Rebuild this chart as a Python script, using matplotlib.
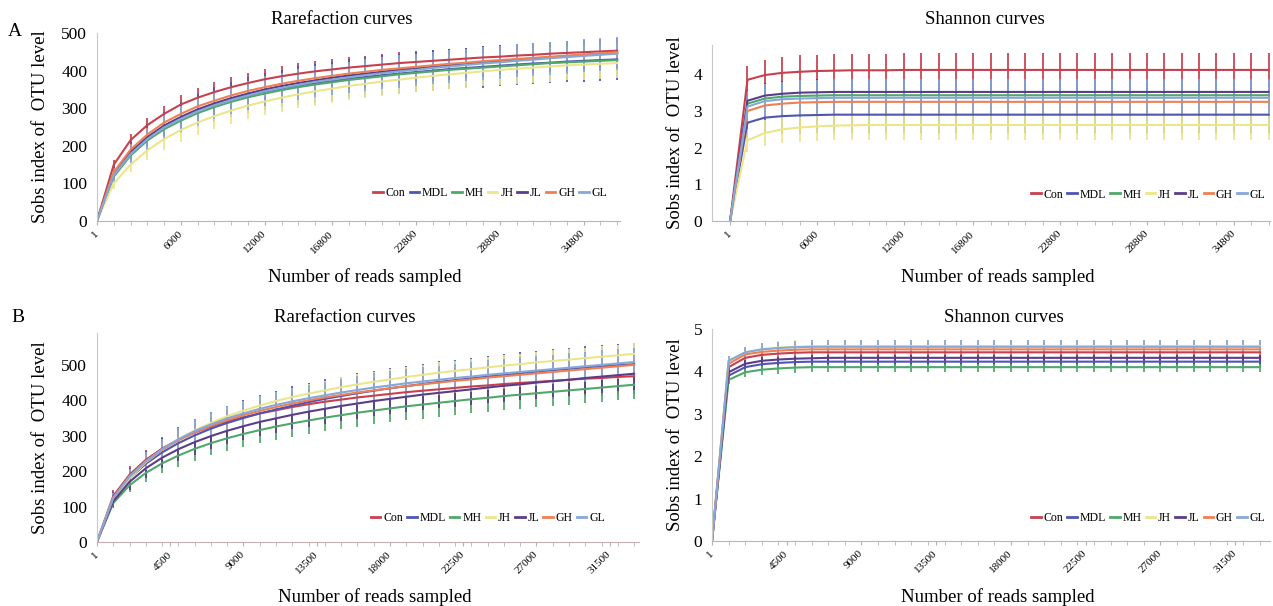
import numpy as np
import matplotlib
matplotlib.use("Agg")
from matplotlib import pyplot as plt
from matplotlib.lines import Line2D

plt.rcParams['font.family'] = ['Liberation Serif', 'DejaVu Serif']

groups = ['Con', 'MDL', 'MH', 'JH', 'JL', 'GH', 'GL']
colors = {'Con': '#c8404e', 'MDL': '#4f55b3', 'MH': '#4fa86a', 'JH': '#ece68a',
          'JL': '#5a3d8a', 'GH': '#f07f52', 'GL': '#86a8d8'}

# ---- sample A: reads sampled
reads_a = [1, 1200, 2400, 3600, 4800, 6000, 7200, 8400,
           9600, 10800, 12000, 13200, 14400, 15600, 16800, 18000,
           19200, 20400, 21600, 22800, 24000, 25200, 26400, 27600,
           28800, 30000, 31200, 32400, 33600, 34800, 36000, 37200]
ticks_a = [1, 6000, 12000, 16800, 22800, 28800, 34800]

rare_a = {
    'Con': [1, 150, 215, 255, 285, 310, 328, 343,
            356, 367, 377, 385, 392, 398, 403, 408,
            412, 416, 420, 423, 426, 429, 432, 435,
            437, 440, 442, 445, 447, 449, 451, 453],
    'MDL': [1, 125, 182, 222, 252, 275, 294, 310,
            323, 334, 344, 352, 360, 366, 372, 378,
            383, 388, 392, 396, 400, 404, 407, 410,
            413, 416, 419, 421, 424, 426, 428, 430],
    'MH': [1, 118, 174, 214, 244, 267, 287, 303,
           317, 329, 339, 348, 356, 363, 369, 375,
           380, 385, 390, 394, 398, 402, 405, 408,
           411, 414, 417, 420, 422, 424, 426, 428],
    'JH': [1, 100, 150, 188, 218, 242, 262, 279,
           294, 307, 318, 328, 337, 345, 352, 359,
           365, 371, 376, 381, 386, 390, 394, 398,
           402, 405, 408, 411, 414, 416, 418, 420],
    'JL': [1, 125, 183, 223, 254, 277, 297, 313,
           327, 339, 350, 359, 367, 374, 381, 387,
           392, 397, 402, 406, 410, 414, 418, 422,
           425, 429, 432, 435, 438, 441, 444, 447],
    'GH': [1, 130, 190, 230, 262, 285, 305, 320,
           334, 346, 356, 365, 373, 380, 386, 392,
           397, 402, 406, 410, 414, 418, 421, 425,
           428, 431, 434, 437, 440, 443, 446, 449],
    'GL': [1, 122, 178, 218, 249, 272, 292, 308,
           322, 334, 345, 354, 362, 370, 376, 382,
           388, 393, 398, 402, 407, 411, 415, 419,
           422, 426, 429, 433, 436, 439, 442, 445],
}
rare_a_sd = {
    'Con': [0, 12, 17, 20, 22, 24, 25, 26,
            26, 27, 27, 27, 28, 28, 28, 28,
            28, 29, 29, 29, 29, 29, 29, 30,
            30, 30, 30, 30, 30, 30, 30, 30],
    'MDL': [0, 20, 29, 35, 39, 42, 44, 46,
            47, 48, 49, 50, 51, 51, 52, 52,
            53, 53, 53, 54, 54, 54, 54, 55,
            55, 55, 55, 55, 55, 56, 56, 56],
    'MH': [0, 12, 18, 22, 25, 27, 28, 29,
           30, 31, 31, 32, 32, 32, 33, 33,
           33, 33, 34, 34, 34, 34, 34, 34,
           35, 35, 35, 35, 35, 35, 35, 35],
    'JH': [0, 14, 21, 26, 29, 31, 33, 34,
           35, 36, 36, 37, 37, 38, 38, 38,
           38, 39, 39, 39, 39, 39, 40, 40,
           40, 40, 40, 40, 40, 40, 40, 40],
    'JL': [0, 14, 20, 24, 27, 29, 31, 32,
           33, 34, 34, 35, 35, 36, 36, 36,
           37, 37, 37, 37, 38, 38, 38, 38,
           38, 38, 38, 39, 39, 39, 39, 39],
    'GH': [0, 10, 14, 17, 19, 20, 21, 22,
           22, 23, 23, 23, 24, 24, 24, 24,
           24, 25, 25, 25, 25, 25, 25, 25,
           25, 25, 25, 25, 25, 25, 25, 25],
    'GL': [0, 16, 23, 28, 32, 34, 36, 37,
           38, 39, 40, 40, 41, 41, 42, 42,
           42, 42, 43, 43, 43, 43, 43, 43,
           44, 44, 44, 44, 44, 44, 44, 44],
}

shan_a = {
    'Con': [0, 3.85, 3.98, 4.04, 4.07, 4.09, 4.10, 4.11,
            4.11, 4.11, 4.12, 4.12, 4.12, 4.12, 4.12, 4.12,
            4.12, 4.12, 4.12, 4.12, 4.12, 4.12, 4.12, 4.12,
            4.12, 4.12, 4.12, 4.12, 4.12, 4.12, 4.12, 4.12],
    'MDL': [0, 2.68, 2.82, 2.86, 2.88, 2.89, 2.90, 2.90,
            2.90, 2.90, 2.90, 2.90, 2.90, 2.90, 2.90, 2.90,
            2.90, 2.90, 2.90, 2.90, 2.90, 2.90, 2.90, 2.90,
            2.90, 2.90, 2.90, 2.90, 2.90, 2.90, 2.90, 2.90],
    'MH': [0, 3.20, 3.34, 3.39, 3.41, 3.42, 3.43, 3.43,
           3.43, 3.43, 3.43, 3.43, 3.43, 3.43, 3.43, 3.43,
           3.43, 3.43, 3.43, 3.43, 3.43, 3.43, 3.43, 3.43,
           3.43, 3.43, 3.43, 3.43, 3.43, 3.43, 3.43, 3.43],
    'JH': [0, 2.20, 2.40, 2.50, 2.55, 2.58, 2.60, 2.61,
           2.62, 2.62, 2.62, 2.62, 2.62, 2.62, 2.62, 2.62,
           2.62, 2.62, 2.62, 2.62, 2.62, 2.62, 2.62, 2.62,
           2.62, 2.62, 2.62, 2.62, 2.62, 2.62, 2.62, 2.62],
    'JL': [0, 3.28, 3.42, 3.47, 3.50, 3.51, 3.52, 3.52,
           3.52, 3.52, 3.52, 3.52, 3.52, 3.52, 3.52, 3.52,
           3.52, 3.52, 3.52, 3.52, 3.52, 3.52, 3.52, 3.52,
           3.52, 3.52, 3.52, 3.52, 3.52, 3.52, 3.52, 3.52],
    'GH': [0, 3.00, 3.15, 3.20, 3.23, 3.24, 3.25, 3.25,
           3.25, 3.25, 3.25, 3.25, 3.25, 3.25, 3.25, 3.25,
           3.25, 3.25, 3.25, 3.25, 3.25, 3.25, 3.25, 3.25,
           3.25, 3.25, 3.25, 3.25, 3.25, 3.25, 3.25, 3.25],
    'GL': [0, 3.12, 3.27, 3.32, 3.34, 3.35, 3.36, 3.36,
           3.36, 3.36, 3.36, 3.36, 3.36, 3.36, 3.36, 3.36,
           3.36, 3.36, 3.36, 3.36, 3.36, 3.36, 3.36, 3.36,
           3.36, 3.36, 3.36, 3.36, 3.36, 3.36, 3.36, 3.36],
}
shan_a_sd = {
    'Con': [0, 0.38, 0.42, 0.44, 0.45, 0.45, 0.45, 0.45,
            0.45, 0.45, 0.45, 0.45, 0.45, 0.45, 0.45, 0.45,
            0.45, 0.45, 0.45, 0.45, 0.45, 0.45, 0.45, 0.45,
            0.45, 0.45, 0.45, 0.45, 0.45, 0.45, 0.45, 0.45],
    'MDL': [0, 0.42, 0.46, 0.48, 0.50, 0.50, 0.50, 0.50,
            0.50, 0.50, 0.50, 0.50, 0.50, 0.50, 0.50, 0.50,
            0.50, 0.50, 0.50, 0.50, 0.50, 0.50, 0.50, 0.50,
            0.50, 0.50, 0.50, 0.50, 0.50, 0.50, 0.50, 0.50],
    'MH': [0, 0.30, 0.33, 0.34, 0.35, 0.35, 0.35, 0.35,
           0.35, 0.35, 0.35, 0.35, 0.35, 0.35, 0.35, 0.35,
           0.35, 0.35, 0.35, 0.35, 0.35, 0.35, 0.35, 0.35,
           0.35, 0.35, 0.35, 0.35, 0.35, 0.35, 0.35, 0.35],
    'JH': [0, 0.32, 0.36, 0.38, 0.40, 0.40, 0.40, 0.40,
           0.40, 0.40, 0.40, 0.40, 0.40, 0.40, 0.40, 0.40,
           0.40, 0.40, 0.40, 0.40, 0.40, 0.40, 0.40, 0.40,
           0.40, 0.40, 0.40, 0.40, 0.40, 0.40, 0.40, 0.40],
    'JL': [0, 0.30, 0.33, 0.34, 0.35, 0.35, 0.35, 0.35,
           0.35, 0.35, 0.35, 0.35, 0.35, 0.35, 0.35, 0.35,
           0.35, 0.35, 0.35, 0.35, 0.35, 0.35, 0.35, 0.35,
           0.35, 0.35, 0.35, 0.35, 0.35, 0.35, 0.35, 0.35],
    'GH': [0, 0.25, 0.28, 0.29, 0.30, 0.30, 0.30, 0.30,
           0.30, 0.30, 0.30, 0.30, 0.30, 0.30, 0.30, 0.30,
           0.30, 0.30, 0.30, 0.30, 0.30, 0.30, 0.30, 0.30,
           0.30, 0.30, 0.30, 0.30, 0.30, 0.30, 0.30, 0.30],
    'GL': [0, 0.42, 0.46, 0.48, 0.50, 0.50, 0.50, 0.50,
           0.50, 0.50, 0.50, 0.50, 0.50, 0.50, 0.50, 0.50,
           0.50, 0.50, 0.50, 0.50, 0.50, 0.50, 0.50, 0.50,
           0.50, 0.50, 0.50, 0.50, 0.50, 0.50, 0.50, 0.50],
}

# ---- sample B: reads sampled
reads_b = [1, 1000, 2000, 3000, 4000, 5000, 6000, 7000, 8000, 9000,
           10000, 11000, 12000, 13000, 14000, 15000, 16000, 17000, 18000, 19000,
           20000, 21000, 22000, 23000, 24000, 25000, 26000, 27000, 28000, 29000,
           30000, 31000, 32000, 33000]
ticks_b = [1, 4500, 9000, 13500, 18000, 22500, 27000, 31500]

rare_b = {
    'Con': [1, 130, 190, 232, 264, 289, 309, 326, 340, 352,
            363, 372, 381, 389, 396, 402, 408, 413, 418, 423,
            427, 431, 435, 439, 442, 446, 449, 452, 455, 458,
            461, 463, 466, 468],
    'MDL': [1, 122, 180, 221, 253, 279, 301, 320, 336, 350,
            363, 374, 385, 395, 404, 412, 420, 427, 434, 440,
            446, 452, 457, 462, 467, 472, 476, 481, 485, 489,
            493, 496, 499, 502],
    'MH': [1, 110, 160, 195, 222, 244, 263, 279, 293, 305,
           316, 326, 335, 343, 351, 358, 365, 371, 377, 383,
           388, 393, 398, 403, 407, 412, 416, 420, 424, 428,
           432, 436, 440, 444],
    'JH': [1, 120, 180, 225, 260, 290, 315, 336, 355, 371,
           385, 398, 409, 419, 428, 437, 445, 452, 459, 466,
           472, 478, 483, 488, 493, 498, 502, 507, 511, 515,
           519, 523, 527, 531],
    'JL': [1, 115, 170, 208, 238, 262, 282, 299, 314, 327,
           339, 349, 359, 368, 376, 384, 391, 398, 404, 410,
           416, 421, 426, 431, 436, 441, 445, 450, 454, 458,
           463, 467, 471, 475],
    'GH': [1, 125, 185, 227, 260, 287, 309, 328, 344, 358,
           370, 381, 391, 400, 408, 415, 422, 428, 434, 440,
           445, 450, 455, 459, 464, 468, 472, 476, 480, 484,
           488, 492, 496, 500],
    'GL': [1, 125, 185, 228, 262, 290, 313, 332, 349, 363,
           376, 387, 397, 406, 414, 422, 429, 436, 442, 448,
           453, 458, 463, 467, 472, 476, 480, 484, 488, 492,
           496, 500, 504, 508],
}
rare_b_sd = {
    'Con': [0, 16, 24, 29, 33, 36, 38, 40, 41, 42,
            43, 44, 45, 45, 46, 46, 47, 47, 47, 48,
            48, 48, 48, 49, 49, 49, 49, 49, 50, 50,
            50, 50, 50, 50],
    'MDL': [0, 20, 29, 35, 40, 43, 46, 48, 49, 51,
            52, 53, 54, 54, 55, 55, 56, 56, 57, 57,
            57, 58, 58, 58, 58, 59, 59, 59, 59, 59,
            60, 60, 60, 60],
    'MH': [0, 14, 20, 25, 28, 31, 33, 34, 35, 36,
           37, 37, 38, 38, 38, 39, 39, 39, 39, 40,
           40, 40, 40, 40, 40, 40, 40, 40, 40, 40,
           40, 40, 40, 40],
    'JH': [0, 10, 15, 18, 20, 22, 23, 24, 25, 25,
           26, 26, 27, 27, 27, 28, 28, 28, 28, 29,
           29, 29, 29, 29, 29, 30, 30, 30, 30, 30,
           30, 30, 30, 30],
    'JL': [0, 15, 22, 27, 30, 33, 35, 36, 38, 39,
           40, 40, 41, 42, 42, 43, 43, 43, 44, 44,
           44, 44, 45, 45, 45, 45, 45, 45, 46, 46,
           46, 46, 46, 46],
    'GH': [0, 12, 17, 21, 24, 26, 28, 29, 30, 31,
           31, 32, 32, 33, 33, 33, 34, 34, 34, 34,
           34, 35, 35, 35, 35, 35, 35, 35, 35, 35,
           35, 35, 35, 35],
    'GL': [0, 14, 20, 25, 28, 31, 33, 34, 35, 36,
           37, 37, 38, 38, 39, 39, 39, 40, 40, 40,
           40, 40, 40, 41, 41, 41, 41, 41, 41, 41,
           41, 41, 41, 41],
}

shan_b = {
    'Con': [0, 4.10, 4.32, 4.39, 4.42, 4.44, 4.45, 4.45, 4.45, 4.45,
            4.45, 4.45, 4.45, 4.45, 4.45, 4.45, 4.45, 4.45, 4.45, 4.45,
            4.45, 4.45, 4.45, 4.45, 4.45, 4.45, 4.45, 4.45, 4.45, 4.45,
            4.45, 4.45, 4.45, 4.45],
    'MDL': [0, 3.90, 4.10, 4.17, 4.20, 4.22, 4.23, 4.23, 4.23, 4.23,
            4.23, 4.23, 4.23, 4.23, 4.23, 4.23, 4.23, 4.23, 4.23, 4.23,
            4.23, 4.23, 4.23, 4.23, 4.23, 4.23, 4.23, 4.23, 4.23, 4.23,
            4.23, 4.23, 4.23, 4.23],
    'MH': [0, 3.80, 3.98, 4.04, 4.07, 4.09, 4.10, 4.10, 4.10, 4.10,
           4.10, 4.10, 4.10, 4.10, 4.10, 4.10, 4.10, 4.10, 4.10, 4.10,
           4.10, 4.10, 4.10, 4.10, 4.10, 4.10, 4.10, 4.10, 4.10, 4.10,
           4.10, 4.10, 4.10, 4.10],
    'JH': [0, 4.25, 4.45, 4.52, 4.56, 4.58, 4.59, 4.60, 4.60, 4.60,
           4.60, 4.60, 4.60, 4.60, 4.60, 4.60, 4.60, 4.60, 4.60, 4.60,
           4.60, 4.60, 4.60, 4.60, 4.60, 4.60, 4.60, 4.60, 4.60, 4.60,
           4.60, 4.60, 4.60, 4.60],
    'JL': [0, 3.98, 4.18, 4.25, 4.28, 4.30, 4.31, 4.32, 4.32, 4.32,
           4.32, 4.32, 4.32, 4.32, 4.32, 4.32, 4.32, 4.32, 4.32, 4.32,
           4.32, 4.32, 4.32, 4.32, 4.32, 4.32, 4.32, 4.32, 4.32, 4.32,
           4.32, 4.32, 4.32, 4.32],
    'GH': [0, 4.18, 4.40, 4.46, 4.49, 4.51, 4.52, 4.52, 4.52, 4.52,
           4.52, 4.52, 4.52, 4.52, 4.52, 4.52, 4.52, 4.52, 4.52, 4.52,
           4.52, 4.52, 4.52, 4.52, 4.52, 4.52, 4.52, 4.52, 4.52, 4.52,
           4.52, 4.52, 4.52, 4.52],
    'GL': [0, 4.25, 4.45, 4.52, 4.55, 4.57, 4.58, 4.58, 4.58, 4.58,
           4.58, 4.58, 4.58, 4.58, 4.58, 4.58, 4.58, 4.58, 4.58, 4.58,
           4.58, 4.58, 4.58, 4.58, 4.58, 4.58, 4.58, 4.58, 4.58, 4.58,
           4.58, 4.58, 4.58, 4.58],
}
shan_b_sd = {
    'Con': [0, 0.10, 0.12, 0.13, 0.14, 0.14, 0.14, 0.14, 0.14, 0.14,
            0.14, 0.14, 0.14, 0.14, 0.14, 0.14, 0.14, 0.14, 0.14, 0.14,
            0.14, 0.14, 0.14, 0.14, 0.14, 0.14, 0.14, 0.14, 0.14, 0.14,
            0.14, 0.14, 0.14, 0.14],
    'MDL': [0, 0.10, 0.12, 0.13, 0.13, 0.13, 0.13, 0.13, 0.13, 0.13,
            0.13, 0.13, 0.13, 0.13, 0.13, 0.13, 0.13, 0.13, 0.13, 0.13,
            0.13, 0.13, 0.13, 0.13, 0.13, 0.13, 0.13, 0.13, 0.13, 0.13,
            0.13, 0.13, 0.13, 0.13],
    'MH': [0, 0.09, 0.11, 0.12, 0.12, 0.12, 0.12, 0.12, 0.12, 0.12,
           0.12, 0.12, 0.12, 0.12, 0.12, 0.12, 0.12, 0.12, 0.12, 0.12,
           0.12, 0.12, 0.12, 0.12, 0.12, 0.12, 0.12, 0.12, 0.12, 0.12,
           0.12, 0.12, 0.12, 0.12],
    'JH': [0, 0.11, 0.13, 0.14, 0.15, 0.15, 0.15, 0.15, 0.15, 0.15,
           0.15, 0.15, 0.15, 0.15, 0.15, 0.15, 0.15, 0.15, 0.15, 0.15,
           0.15, 0.15, 0.15, 0.15, 0.15, 0.15, 0.15, 0.15, 0.15, 0.15,
           0.15, 0.15, 0.15, 0.15],
    'JL': [0, 0.10, 0.12, 0.13, 0.14, 0.14, 0.14, 0.14, 0.14, 0.14,
           0.14, 0.14, 0.14, 0.14, 0.14, 0.14, 0.14, 0.14, 0.14, 0.14,
           0.14, 0.14, 0.14, 0.14, 0.14, 0.14, 0.14, 0.14, 0.14, 0.14,
           0.14, 0.14, 0.14, 0.14],
    'GH': [0, 0.10, 0.12, 0.13, 0.14, 0.14, 0.14, 0.14, 0.14, 0.14,
           0.14, 0.14, 0.14, 0.14, 0.14, 0.14, 0.14, 0.14, 0.14, 0.14,
           0.14, 0.14, 0.14, 0.14, 0.14, 0.14, 0.14, 0.14, 0.14, 0.14,
           0.14, 0.14, 0.14, 0.14],
    'GL': [0, 0.11, 0.13, 0.14, 0.15, 0.15, 0.15, 0.15, 0.15, 0.15,
           0.15, 0.15, 0.15, 0.15, 0.15, 0.15, 0.15, 0.15, 0.15, 0.15,
           0.15, 0.15, 0.15, 0.15, 0.15, 0.15, 0.15, 0.15, 0.15, 0.15,
           0.15, 0.15, 0.15, 0.15],
}

W, H = 1273, 606
fig = plt.figure(figsize=(W / 100, H / 100), dpi=100)


def px_rect(left, right, top, bottom):
    return [left / W, 1 - bottom / H, (right - left) / W, (bottom - top) / H]


def panel(rect, reads, means, sds, ticks, minor_step, xlim, ylim, yticks,
          title, title_xy, xlabel_y, ylabel_x, leg_anchor):
    ax = fig.add_axes(rect)
    for g in groups:
        ax.errorbar(reads, means[g], yerr=sds[g], fmt='none', ecolor=colors[g],
                    elinewidth=1.4, capsize=0, alpha=0.9, zorder=1)
    for g in groups:
        ax.plot(reads, means[g], color=colors[g], lw=1.5, zorder=2)
    ax.set_xlim(*xlim)
    ax.set_ylim(*ylim)
    ax.set_yticks(yticks)
    ax.set_yticklabels([str(v) for v in yticks], fontsize=12.5)
    ax.tick_params(axis='y', length=0, pad=7)
    ax.set_xticks(ticks)
    ax.set_xticklabels([str(t) for t in ticks], fontsize=8, rotation=45,
                       ha='right', va='center', rotation_mode='anchor')
    ax.set_xticks(np.arange(minor_step, xlim[1], minor_step), minor=True)
    ax.tick_params(axis='x', which='both', length=3, color='#bfaeae', pad=5)
    for s in ['top', 'right']:
        ax.spines[s].set_visible(False)
    ax.spines['left'].set_color('#c8c8c8')
    ax.spines['bottom'].set_color('#c4b0b0')
    fig.text(title_xy[0] / W, 1 - title_xy[1] / H, title, fontsize=13.5,
             ha='center', va='center')
    x_mid = (rect[0] + rect[2] / 2)
    fig.text(x_mid + 0.005, 1 - xlabel_y / H, 'Number of reads sampled',
             fontsize=13.5, ha='center', va='center')
    y_mid = rect[1] + rect[3] / 2
    fig.text(ylabel_x / W, y_mid, 'Sobs index of  OTU level', fontsize=13.5,
             ha='center', va='center', rotation=90)
    handles = [Line2D([0], [0], color=colors[g], lw=2) for g in groups]
    ax.legend(handles, groups, ncol=7, loc='center right', bbox_to_anchor=leg_anchor,
              frameon=False, fontsize=8.5, handlelength=0.8, handletextpad=0.25,
              columnspacing=0.35, borderaxespad=0)
    return ax


panel(px_rect(97, 620, 33, 221), reads_a, rare_a, rare_a_sd, ticks_a, 1200,
      (0, 37400), (0, 500), [0, 100, 200, 300, 400, 500],
      'Rarefaction curves', (342, 20), 277, 41, (0.985, 0.15))
panel(px_rect(712, 1270, 45, 221), reads_a, shan_a, shan_a_sd, ticks_a, 1200,
      (-1250, 37300), (0, 4.8), [0, 1, 2, 3, 4],
      'Shannon curves', (985, 20), 277, 675, (1.0, 0.15))
panel(px_rect(97, 639, 333, 542), reads_b, rare_b, rare_b_sd, ticks_b, 1000,
      (0, 33300), (0, 590), [0, 100, 200, 300, 400, 500],
      'Rarefaction curves', (345, 318), 597, 41, (0.946, 0.115))
panel(px_rect(712, 1270, 329, 541), reads_b, shan_b, shan_b_sd, ticks_b, 1000,
      (0, 33600), (0, 5), [0, 1, 2, 3, 4, 5],
      'Shannon curves', (1004, 318), 597, 675, (1.0, 0.108))

fig.text(15 / W, 1 - 32 / H, 'A', fontsize=14, ha='center', va='center')
fig.text(18 / W, 1 - 318 / H, 'B', fontsize=14, ha='center', va='center')

plt.savefig('out.png', dpi=100)
